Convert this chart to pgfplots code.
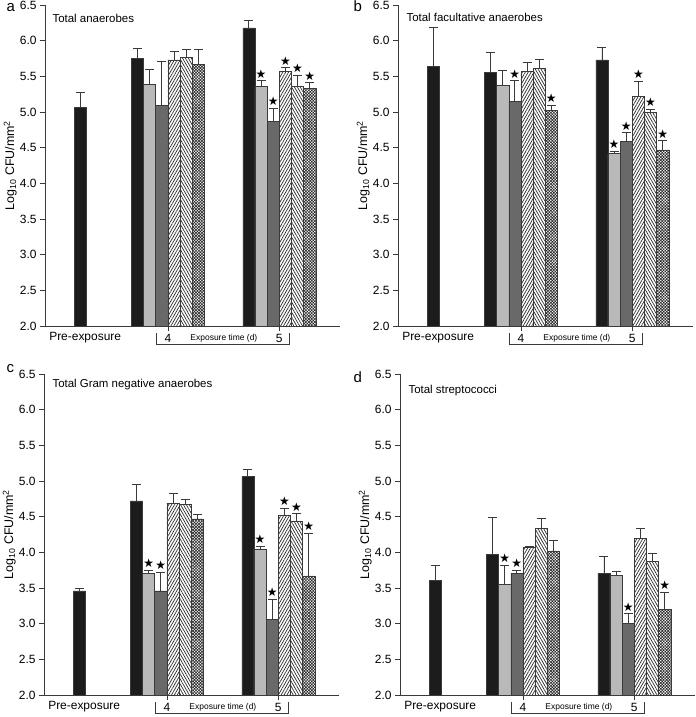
\documentclass[border=0pt]{standalone}
\usepackage{pgfplots}
\pgfplotsset{compat=1.18}
\usepackage{pgfplotstable}
\usepackage{fontspec}
\setmainfont{Liberation Sans}
\newfontfamily\dejavu{DejaVu Sans}
\usetikzlibrary{patterns.meta}

\definecolor{cblack}{HTML}{1C1C1C}
\definecolor{clight}{HTML}{B9B9B9}
\definecolor{cdark}{HTML}{696969}
\definecolor{cline}{HTML}{3A3A3A}
\definecolor{chatch}{HTML}{2A2A2A}

% x: bar centre, y: mean, t: top of error bar, s: significance star, k: bar style
\pgfplotstableread{
x y t s k
2.9 5.07 5.28 0 1
7.6 5.75 5.89 0 1
8.6 5.39 5.60 0 2
9.6 5.09 5.71 0 3
10.6 5.73 5.85 0 4
11.6 5.77 5.88 0 5
12.6 5.67 5.88 0 6
16.75 6.18 6.29 0 1
17.75 5.36 5.44 1 2
18.75 4.87 5.05 1 3
19.75 5.57 5.62 1 4
20.75 5.36 5.52 1 5
21.75 5.33 5.41 1 6
}\dataA

\pgfplotstableread{
x y t s k
2.9 5.64 6.18 0 1
7.6 5.56 5.84 0 1
8.6 5.37 5.59 0 2
9.6 5.15 5.44 1 3
10.6 5.57 5.70 0 4
11.6 5.61 5.74 0 5
12.6 5.02 5.10 1 6
16.75 5.73 5.91 0 1
17.75 4.42 4.45 1 2
18.75 4.59 4.71 1 3
19.75 5.22 5.43 1 4
20.75 4.99 5.04 1 5
21.75 4.47 4.60 1 6
}\dataB

\pgfplotstableread{
x y t s k
2.9 3.46 3.50 0 1
7.6 4.72 4.95 0 1
8.6 3.71 3.75 1 2
9.6 3.46 3.72 1 3
10.6 4.69 4.83 0 4
11.6 4.67 4.74 0 5
12.6 4.47 4.53 0 6
16.75 5.06 5.16 0 1
17.75 4.05 4.09 1 2
18.75 3.06 3.34 1 3
19.75 4.52 4.62 1 4
20.75 4.44 4.54 1 5
21.75 3.67 4.27 1 6
}\dataC

\pgfplotstableread{
x y t s k
2.9 3.61 3.82 0 1
7.6 3.97 4.49 0 1
8.6 3.55 3.82 1 2
9.6 3.71 3.75 1 3
10.6 4.07 4.09 0 4
11.6 4.34 4.48 0 5
12.6 4.02 4.17 0 6
16.75 3.71 3.95 0 1
17.75 3.68 3.74 0 2
18.75 3.00 3.14 1 3
19.75 4.20 4.34 0 4
20.75 3.87 3.98 0 5
21.75 3.20 3.44 1 6
}\dataD

\pgfplotsset{
  panel/.style={
    scale only axis, width=295bp, height=321bp,
    anchor=south west,
    xmin=0, xmax=24.24, ymin=2, ymax=6.5,
    axis lines*=left,
    axis line style={cline, line width=0.7bp},
    tick style={cline, line width=0.7bp},
    tick align=outside,
    major tick length=5bp,
    ytick={2,2.5,3,3.5,4,4.5,5,5.5,6,6.5},
    yticklabel style={/pgf/number format/.cd, fixed, fixed zerofill, precision=1},
    xtick={10.1,19.25}, xticklabels={4,5},
    /pgf/number format/assume math mode=true,
    tick label style={font=\fontsize{12}{14}\selectfont},
    ylabel={Log\textsubscript{10} CFU/mm\textsuperscript{2}},
    ylabel style={at={(axis description cs:-0.118,0.5)}, anchor=center, font=\fontsize{12.5}{15}\selectfont},
    clip mode=individual,
  },
  bars/.style={ybar, bar width=1, bar shift=0pt, line width=0.5bp, draw=cline,
    error bars/y dir=plus, error bars/y explicit,
    error bars/error bar style={cline, line width=0.7bp},
    error bars/error mark options={rotate=90, cline, line width=0.7bp, mark size=4.5bp}},
}

\newcommand\drawbars[2]{%
  \addplot[bars, fill=cblack, restrict expr to domain={\thisrow{k}}{0.5:1.5}]
    table[x=x, y=y, y error expr=\thisrow{t}-\thisrow{y}]{#1};
  \addplot[bars, fill=clight, restrict expr to domain={\thisrow{k}}{1.5:2.5}]
    table[x=x, y=y, y error expr=\thisrow{t}-\thisrow{y}]{#1};
  \addplot[bars, fill=cdark, restrict expr to domain={\thisrow{k}}{2.5:3.5}]
    table[x=x, y=y, y error expr=\thisrow{t}-\thisrow{y}]{#1};
  \addplot[bars, pattern={Lines[angle=60, distance=2.5bp, line width=0.7bp]}, pattern color=chatch, restrict expr to domain={\thisrow{k}}{3.5:4.5}]
    table[x=x, y=y, y error expr=\thisrow{t}-\thisrow{y}]{#1};
  \addplot[bars, pattern={Lines[angle=120, distance=2.5bp, line width=0.7bp]}, pattern color=chatch, restrict expr to domain={\thisrow{k}}{4.5:5.5}]
    table[x=x, y=y, y error expr=\thisrow{t}-\thisrow{y}]{#1};
  \addplot[bars, pattern={Hatch[angle=45, distance=2.1bp, line width=0.65bp]}, pattern color=chatch, restrict expr to domain={\thisrow{k}}{5.5:6.5}]
    table[x=x, y=y, y error expr=\thisrow{t}-\thisrow{y}]{#1};
  \addplot[only marks, mark=text, text mark={\dejavu\fontsize{12}{12}\selectfont ★}, restrict expr to domain={\thisrow{s}}{0.5:1.5}]
    table[x=x, y expr=\thisrow{t}+0.095]{#1};
  \draw[cline, line width=0.7bp] ([yshift=-7bp]axis cs:9.15,2) -- ([yshift=-18bp]axis cs:9.15,2) -- ([yshift=-18bp]axis cs:20.1,2) -- ([yshift=-7bp]axis cs:20.1,2);
  \node[anchor=base, font=\fontsize{8.5}{10}\selectfont] at ([yshift=-14bp]axis cs:14.7,2) {Exposure time (d)};
  \node[anchor=base, font=\fontsize{12}{14}\selectfont] at ([yshift=-14.5bp]axis cs:3.3,2) {Pre-exposure};
  #2
}

\begin{document}
\begin{tikzpicture}
\useasboundingbox (0,0) rectangle (696bp,-717bp);

\begin{axis}[panel, at={(45bp,-326bp)}]
\drawbars{\dataA}{\node[anchor=base west, font=\fontsize{11.5}{14}\selectfont] at ([xshift=4bp, yshift=-17bp]rel axis cs:0,1) {Total anaerobes};}
\end{axis}

\begin{axis}[panel, at={(398bp,-326bp)}]
\drawbars{\dataB}{\node[anchor=base west, font=\fontsize{11.5}{14}\selectfont] at ([xshift=5bp, yshift=-16bp]rel axis cs:0,1) {Total facultative anaerobes};}
\end{axis}

\begin{axis}[panel, at={(44bp,-695bp)}]
\drawbars{\dataC}{\node[anchor=base west, font=\fontsize{11.5}{14}\selectfont] at ([xshift=5bp, yshift=-13.5bp]rel axis cs:0,1) {Total Gram negative anaerobes};}
\end{axis}

\begin{axis}[panel, at={(400bp,-695bp)}]
\drawbars{\dataD}{\node[anchor=base west, font=\fontsize{11.5}{14}\selectfont] at ([xshift=5bp, yshift=-19bp]rel axis cs:0,1) {Total streptococci};}
\end{axis}

\node[anchor=base west, font=\fontsize{15}{18}\selectfont] at (3bp,-11bp) {a};
\node[anchor=base west, font=\fontsize{15}{18}\selectfont] at (350bp,-11bp) {b};
\node[anchor=base west, font=\fontsize{15}{18}\selectfont] at (3bp,-372bp) {c};
\node[anchor=base west, font=\fontsize{15}{18}\selectfont] at (350bp,-382bp) {d};
\end{tikzpicture}
\end{document}
